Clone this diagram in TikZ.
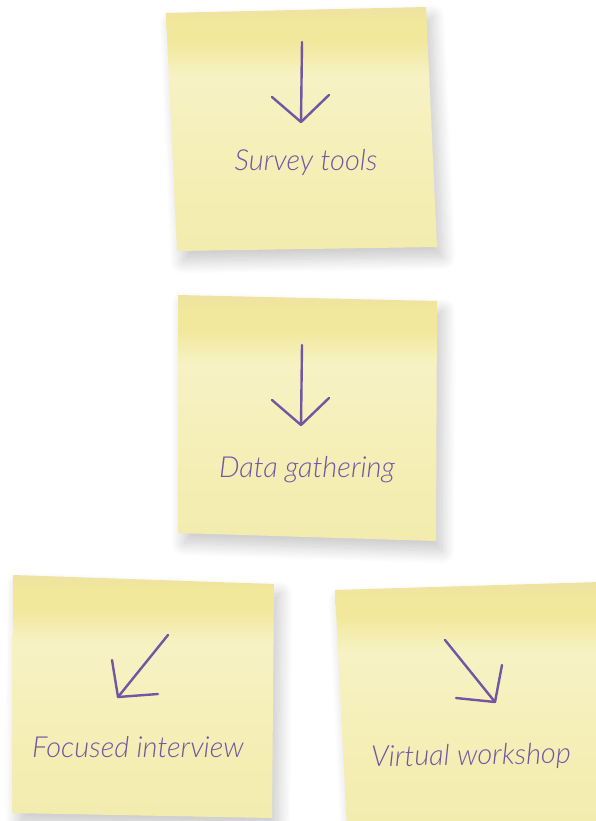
\documentclass[tikz,border=0pt]{standalone}
\usepackage{fontspec}
\setmainfont{Lato}
\newfontfamily\handfont{Lato Light Italic}
\usetikzlibrary{shadows.blur}
\definecolor{NoteTop}{RGB}{238,226,162}
\definecolor{NoteBand}{RGB}{241,232,155}
\definecolor{NoteLight}{RGB}{247,242,196}
\definecolor{NoteBody}{RGB}{245,239,184}
\definecolor{NoteLow}{RGB}{243,236,174}
\definecolor{Ink}{RGB}{114,86,162}

% paper of a sticky note, lighter below the glue strip
\pgfdeclareverticalshading{sticky}{100bp}{
  color(0bp)=(NoteLow); color(25bp)=(NoteLow); color(45bp)=(NoteBody);
  color(61bp)=(NoteLight); color(68bp)=(NoteBand); color(72bp)=(NoteBand);
  color(75bp)=(NoteTop); color(100bp)=(NoteTop)}

\begin{document}
\begin{tikzpicture}[x=1pt, y=-1pt,
    note/.style={shading=sticky, blur shadow={shadow xshift=6pt, shadow yshift=-10pt,
        shadow blur radius=13pt, shadow blur steps=16, shadow opacity=22}},
    pen/.style={draw=Ink, line width=2.4pt, line cap=round, line join=round},
    scrawl/.style={text=Ink, font=\handfont\fontsize{29}{32}\selectfont, inner sep=0pt}
  ]
  \useasboundingbox (0,0) rectangle (595,821);

  % the four notes
  \shade[note] (166,13) -- (426,7) -- (437,247) -- (177,251) -- cycle;
  \shade[note] (178,295) -- (437,301) -- (436,541) -- (178,533) -- cycle;
  \shade[note] (13,575) -- (274,584) -- (272,818) -- (12,813) -- cycle;
  \shade[note] (335,590) -- (600,582) -- (605,830) -- (347,830) -- cycle;

  % hand drawn arrows
  \coordinate (survey-tail) at (302,42);  \coordinate (survey-tip) at (301,122);
  \coordinate (survey-l) at (272,97);     \coordinate (survey-r) at (329,95);
  \coordinate (gather-tail) at (302,345); \coordinate (gather-tip) at (301,425);
  \coordinate (gather-l) at (272,400);    \coordinate (gather-r) at (329,398);
  \coordinate (focus-tail) at (168,635);  \coordinate (focus-tip) at (118,697);
  \coordinate (focus-l) at (112,660);     \coordinate (focus-r) at (158,694);
  \coordinate (shop-tail) at (445,640);   \coordinate (shop-tip) at (495,702);
  \coordinate (shop-l) at (456,698);      \coordinate (shop-r) at (502,665);

  \draw[pen] (survey-tail) -- (survey-tip);
  \draw[pen] (survey-l) -- (survey-tip) -- (survey-r);
  \draw[pen] (gather-tail) -- (gather-tip);
  \draw[pen] (gather-l) -- (gather-tip) -- (gather-r);
  \draw[pen] (focus-tail) -- (focus-tip);
  \draw[pen] (focus-l) -- (focus-tip) -- (focus-r);
  \draw[pen] (shop-tail) -- (shop-tip);
  \draw[pen] (shop-l) -- (shop-tip) -- (shop-r);

  % captions
  \node[scrawl] (survey) at (306,163) {Survey tools};
  \node[scrawl] (gather) at (307,470) {Data gathering};
  \node[scrawl] (focus) at (138,747) {Focused interview};
  \node[scrawl, rotate=1] (shop) at (471,757) {Virtual workshop};
\end{tikzpicture}
\end{document}
